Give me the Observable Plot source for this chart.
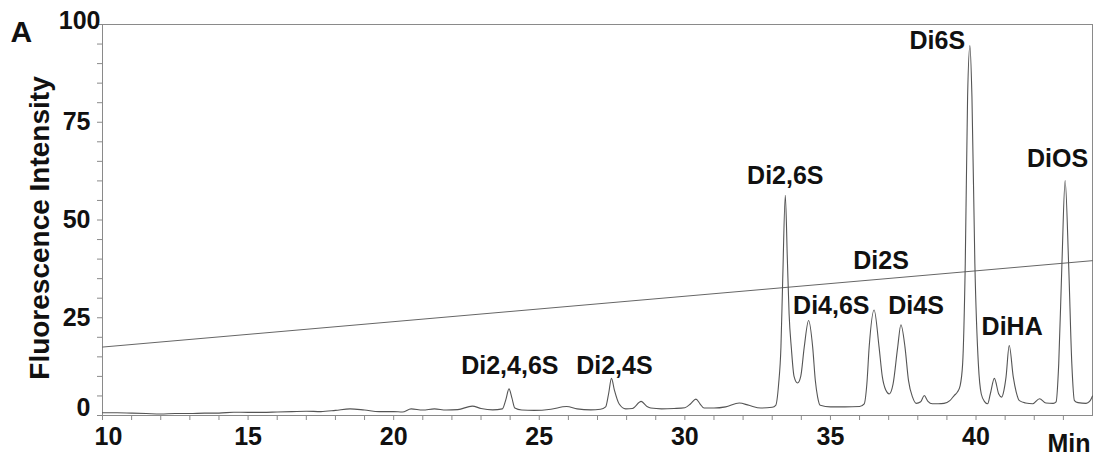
<!DOCTYPE html>
<html><head><meta charset="utf-8">
<script src="https://cdn.jsdelivr.net/npm/d3@7"></script>
<script src="https://cdn.jsdelivr.net/npm/@observablehq/plot@0.6"></script>
<style>body{margin:0;background:#fff} svg{display:block}</style>
</head><body><div id="chart"></div>
<script>
// Chromatogram trace (minutes, fluorescence intensity)
const traceTime = [
  10.0,10.5,11.0,11.5,12.0,12.5,13.0,13.5,14.0,14.5,15.0,15.5,16.0,16.5,17.0,17.5,18.0,18.5,19.0,19.5,
  20.0,20.3,20.6,21.0,21.4,21.8,22.2,22.7,23.0,23.4,23.73,23.85,23.96,24.06,24.16,24.4,24.82,25.4,25.94,26.3,
  26.77,27.1,27.28,27.38,27.48,27.58,27.74,27.97,28.2,28.5,28.7,28.83,29.2,29.63,30.0,30.2,30.38,30.52,30.66,31.0,
  31.4,31.87,32.2,32.61,33.0,33.12,33.22,33.3,33.36,33.45,33.52,33.58,33.66,33.75,33.87,33.98,34.1,34.25,34.39,34.48,
  34.56,34.65,35.0,35.5,36.0,36.16,36.25,36.33,36.5,36.67,36.78,36.9,37.02,37.15,37.31,37.42,37.56,37.68,37.82,37.95,
  38.1,38.22,38.35,38.5,38.7,38.9,39.1,39.25,39.36,39.45,39.54,39.63,39.71,39.79,39.86,39.96,40.08,40.18,40.3,40.4,
  40.49,40.63,40.78,40.88,40.96,41.03,41.14,41.28,41.38,41.49,41.7,41.95,42.18,42.4,42.65,42.75,42.84,42.95,43.06,43.18,
  43.29,43.38,43.5,43.78,43.9,44.0
];
const traceSignal = [
  0.7,0.7,0.6,0.5,0.4,0.5,0.5,0.6,0.6,0.85,0.8,0.8,0.9,1.0,1.1,1.0,1.3,1.7,1.4,1.0,
  1.0,0.9,1.7,1.4,1.7,1.4,1.5,2.4,1.8,1.45,1.7,4.0,6.8,4.5,1.9,1.4,1.3,1.6,2.3,1.7,
  1.45,1.6,2.2,5.5,9.5,6.5,3.0,1.7,1.8,3.6,2.3,1.9,1.7,1.8,2.0,3.0,4.2,3.0,1.9,1.9,
  2.2,3.2,2.6,1.9,2.1,2.6,8.0,17.5,34.5,56.3,40.0,26.0,17.0,10.0,8.3,10.0,17.5,24.3,17.5,9.0,
  4.7,2.6,2.2,2.2,2.3,3.0,8.0,17.5,27.0,17.5,10.0,6.5,5.5,8.0,17.5,23.2,17.5,9.0,4.7,3.1,
  3.5,5.1,3.6,3.0,3.0,3.1,3.8,5.1,6.0,7.5,13.2,38.8,81.4,94.6,81.4,38.8,13.2,5.5,3.5,3.0,
  5.5,9.5,5.5,4.7,6.5,9.8,17.9,9.8,6.0,3.8,3.2,3.0,4.3,3.2,3.1,3.5,13.2,38.8,60.1,38.8,
  13.2,3.8,3.3,3.1,3.6,5.0
];
// Gradient line end points
const gradientTime = [10, 44];
const gradientLevel = [17.5, 39.6];
// Peak labels and their anchor (minutes, intensity)
const peakNames = ["Di2,4,6S","Di2,4S","Di2,6S","Di4,6S","Di2S","Di4S","Di6S","DiHA","DiOS"];
const peakLabelTime = [23.99,27.58,33.45,35.03,36.74,37.94,38.67,41.24,42.80];
const peakLabelLevel = [10.7,10.7,59.3,26.0,37.5,26.0,93.8,20.5,63.5];
// Ticks
const xMajorTicks = [10,15,20,25,30,35,40];
const xMinorTicks = [10,11,12,13,14,15,16,17,18,19,20,21,22,23,24,25,26,27,28,29,30,31,32,33,34,35,36,37,38,39,40,41,42,43];
const yMajorTicks = [0,25,50,75,100];
const yMinorTicks = [0,5,10,15,20,25,30,35,40,45,50,55,60,65,70,75,80,85,90,95,100];

const trace = traceTime.map((t, i) => ({t, v: traceSignal[i]}));
const gradient = gradientTime.map((t, i) => ({t, v: gradientLevel[i]}));
const peaks = peakNames.map((name, i) => ({name, t: peakLabelTime[i], v: peakLabelLevel[i]}));

const axisGray = "#8a8a8a";
const ink = "#111";
const tickFont = {fontSize: 25, fontWeight: "bold", fill: ink};

const chart = Plot.plot({
  width: 1100,
  height: 458,
  marginLeft: 102,
  marginRight: 8,
  marginTop: 24,
  marginBottom: 43,
  style: {fontFamily: "'Liberation Sans', Arial, Helvetica, sans-serif", background: "#fff", overflow: "visible"},
  x: {domain: [10, 44]},
  y: {domain: [0, 100]},
  marks: [
    Plot.frame({stroke: axisGray}),
    Plot.axisX(xMinorTicks, {tickSize: 5, text: null, stroke: axisGray, label: null}),
    Plot.axisX(xMajorTicks.filter(d => d !== 10), {tickSize: 0, tickPadding: 12, ...tickFont, label: null}),
    Plot.axisX([10], {tickSize: 0, tickPadding: 12, dx: 6, ...tickFont, label: null}),
    Plot.axisY(yMinorTicks, {tickSize: 5, text: null, stroke: axisGray, label: null}),
    Plot.axisY([25, 50, 75], {tickSize: 0, tickPadding: 12, ...tickFont, label: null}),
    Plot.axisY([0], {tickSize: 0, tickPadding: 12, dy: -8, ...tickFont, label: null}),
    Plot.axisY([100], {tickSize: 0, tickPadding: 12, dx: 10, dy: -4, ...tickFont, label: null}),
    Plot.line(gradient, {x: "t", y: "v", stroke: "#666", strokeWidth: 1}),
    Plot.line(trace, {x: "t", y: "v", stroke: "#555", strokeWidth: 1.1, curve: "monotone-x"}),
    Plot.text(peaks, {x: "t", y: "v", text: "name", fontSize: 25, fontWeight: "bold", fill: ink, lineAnchor: "bottom"}),
    Plot.text(["Fluorescence Intensity"], {text: d => d, frameAnchor: "left", textAnchor: "middle", rotate: -90, dx: -62, dy: 8, fontSize: 28, fontWeight: "bold", fill: ink}),
    Plot.text(["A"], {text: d => d, frameAnchor: "top-left", dx: -92, dy: 17.7, textAnchor: "start", lineAnchor: "bottom", fontSize: 30, fontWeight: "bold", fill: ink}),
    Plot.text(["Min"], {text: d => d, frameAnchor: "bottom-right", dx: -2, dy: 36, textAnchor: "end", lineAnchor: "bottom", fontSize: 25, fontWeight: "bold", fill: ink})
  ]
});
document.getElementById("chart").appendChild(chart);
</script>
</body></html>
